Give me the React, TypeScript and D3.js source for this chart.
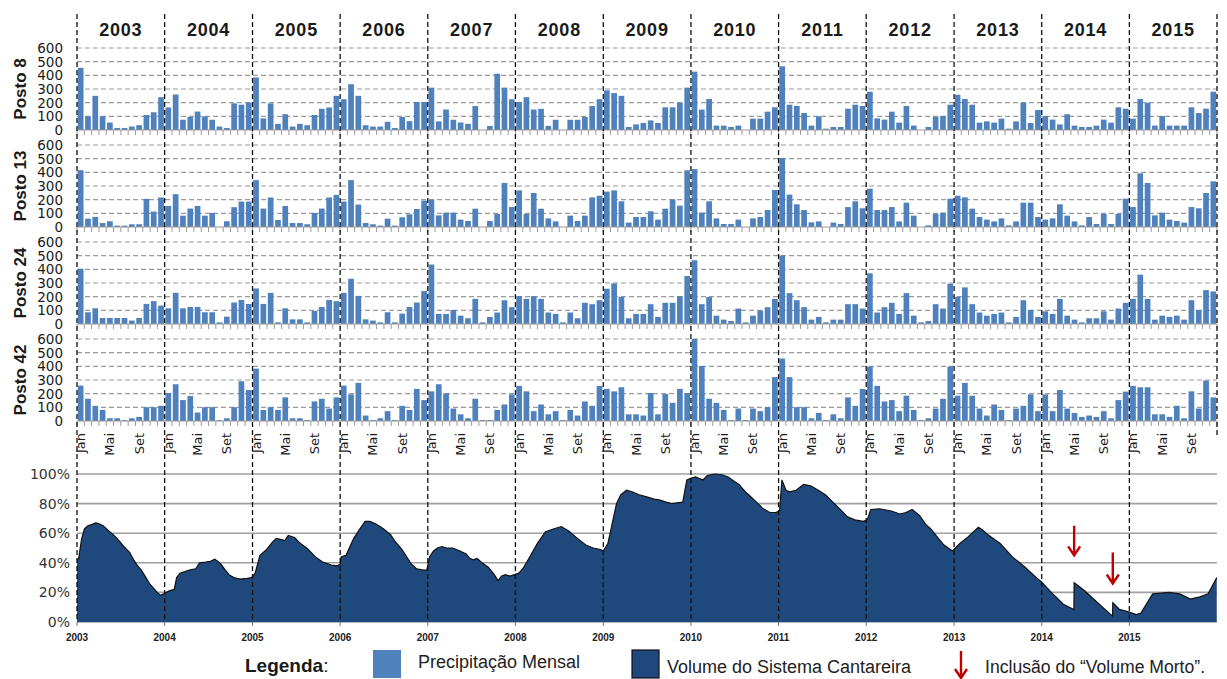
import React from "react";
import * as d3 from "d3";

// ---------- DATA ----------
const years = ["2003", "2004", "2005", "2006", "2007", "2008", "2009", "2010", "2011", "2012", "2013", "2014", "2015"];
const monthLabelIdx = [0, 4, 8];
const monthLabelText = ["Jan", "Mai", "Set"];
const precipTicks = [0, 100, 200, 300, 400, 500, 600];
const volTicks = [0, 20, 40, 60, 80, 100];
const stationNames = ["Posto 8", "Posto 13", "Posto 24", "Posto 42"];

// monthly precipitation (mm), Jan 2003 .. Dec 2015
const posto8 = [
  455, 100, 250, 100, 55, 15, 15, 25, 35, 110, 130, 240,
  165, 260, 75, 95, 135, 100, 75, 25, 15, 195, 185, 200,
  385, 85, 195, 45, 115, 25, 45, 35, 110, 155, 165, 250,
  225, 335, 250, 35, 25, 25, 60, 15, 95, 65, 205, 205,
  310, 63, 150, 75, 55, 45, 175, 0, 30, 412, 310, 225,
  205, 240, 150, 155, 30, 75, 0, 75, 75, 95, 175, 225,
  290, 270, 250, 22, 41, 51, 70, 51, 166, 166, 200, 310,
  427, 149, 227, 32, 32, 22, 32, 0, 83, 83, 134, 166,
  466, 185, 176, 124, 32, 100, 10, 22, 22, 156, 185, 176,
  280, 85, 76, 134, 54, 176, 32, 0, 22, 95, 102, 185,
  258, 227, 185, 54, 63, 54, 83, 10, 63, 200, 51, 146,
  102, 76, 41, 115, 32, 22, 22, 32, 76, 54, 166, 156,
  83, 227, 200, 32, 102, 32, 32, 32, 166, 124, 156, 280,
];
const posto13 = [
  416, 61, 74, 29, 42, 10, 10, 20, 20, 206, 113, 216,
  154, 240, 83, 135, 154, 83, 103, 0, 42, 145, 186, 186,
  343, 135, 216, 51, 154, 29, 29, 20, 103, 135, 216, 235,
  186, 343, 164, 29, 20, 10, 61, 10, 71, 93, 132, 193,
  200, 85, 105, 105, 54, 44, 134, 0, 44, 95, 322, 146,
  268, 95, 249, 134, 63, 41, 0, 83, 44, 83, 217, 229,
  259, 268, 188, 32, 73, 73, 115, 54, 134, 202, 156, 415,
  424, 105, 188, 63, 22, 22, 54, 0, 63, 73, 124, 271,
  505, 237, 166, 124, 34, 41, 0, 32, 22, 146, 188, 137,
  280, 124, 124, 146, 41, 178, 83, 0, 12, 95, 105, 207,
  229, 217, 134, 73, 54, 41, 63, 12, 41, 178, 178, 73,
  54, 63, 166, 83, 41, 12, 73, 22, 95, 22, 95, 207,
  146, 393, 322, 85, 105, 54, 44, 32, 146, 137, 249, 334,
];
const posto24 = [
  404, 86, 115, 44, 44, 44, 44, 25, 44, 147, 167, 135,
  115, 228, 115, 125, 125, 86, 86, 12, 54, 157, 176, 147,
  260, 147, 228, 12, 115, 34, 34, 12, 96, 125, 176, 167,
  228, 331, 206, 34, 25, 12, 86, 12, 76, 125, 157, 241,
  435, 74, 74, 103, 61, 42, 184, 12, 52, 84, 174, 123,
  204, 184, 204, 184, 84, 74, 12, 84, 42, 155, 145, 174,
  258, 297, 199, 42, 74, 74, 145, 52, 155, 155, 204, 351,
  467, 145, 197, 61, 32, 22, 113, 12, 61, 98, 123, 184,
  501, 226, 174, 123, 32, 52, 12, 32, 32, 145, 145, 113,
  371, 84, 123, 155, 74, 226, 61, 12, 22, 145, 113, 295,
  199, 268, 145, 84, 61, 74, 84, 12, 52, 174, 103, 52,
  93, 74, 184, 61, 32, 12, 42, 42, 93, 32, 113, 155,
  184, 361, 184, 32, 61, 52, 61, 32, 174, 103, 248, 238,
];
const posto42 = [
  259, 163, 111, 81, 20, 20, 7, 20, 30, 101, 101, 111,
  205, 269, 153, 183, 62, 101, 101, 7, 20, 101, 291, 227,
  383, 81, 101, 81, 173, 20, 20, 7, 143, 163, 91, 173,
  259, 195, 279, 40, 7, 20, 72, 7, 111, 81, 235, 153,
  217, 269, 202, 91, 49, 20, 163, 7, 7, 81, 121, 195,
  257, 217, 72, 121, 49, 72, 7, 81, 40, 143, 111, 257,
  235, 217, 247, 49, 49, 40, 205, 49, 198, 133, 235, 205,
  600, 402, 163, 133, 81, 7, 91, 7, 91, 72, 101, 321,
  457, 321, 101, 101, 20, 59, 7, 49, 20, 173, 111, 235,
  398, 257, 143, 153, 72, 185, 81, 7, 20, 91, 163, 398,
  185, 279, 185, 91, 40, 121, 81, 7, 91, 111, 195, 72,
  195, 72, 227, 91, 59, 30, 40, 30, 72, 20, 153, 215,
  257, 247, 247, 49, 49, 30, 111, 20, 217, 91, 296, 173,
];
const stationValues = [posto8, posto13, posto24, posto42];

// Cantareira stored volume (%)
const volDates = [
  "2003-01-01", "2003-01-08", "2003-01-20", "2003-02-01", "2003-02-15", "2003-03-05", "2003-03-20", "2003-04-01", "2003-04-20", "2003-05-10", "2003-06-01", "2003-06-25", "2003-07-15", "2003-08-08", "2003-08-25", "2003-09-10", "2003-09-26", "2003-10-15", "2003-10-30", "2003-11-15", "2003-12-01", "2003-12-15", "2003-12-28",
  "2004-01-20", "2004-02-10", "2004-02-20", "2004-03-05", "2004-03-25", "2004-04-20", "2004-05-10", "2004-05-25", "2004-06-20", "2004-07-10", "2004-07-28", "2004-08-20", "2004-09-10", "2004-09-25", "2004-10-15", "2004-11-10", "2004-12-10", "2004-12-28",
  "2005-01-12", "2005-02-01", "2005-03-01", "2005-03-25", "2005-04-10", "2005-05-05", "2005-05-15", "2005-05-30", "2005-06-25", "2005-07-20", "2005-08-18", "2005-09-20", "2005-10-20", "2005-11-25", "2005-12-20",
  "2006-01-01", "2006-01-05", "2006-01-25", "2006-02-25", "2006-03-20", "2006-04-15", "2006-05-05", "2006-06-01", "2006-06-30", "2006-07-30", "2006-08-15", "2006-09-15", "2006-10-05", "2006-10-25", "2006-11-15", "2006-12-15", "2006-12-28",
  "2007-01-08", "2007-01-25", "2007-02-10", "2007-03-01", "2007-03-20", "2007-04-15", "2007-05-15", "2007-06-10", "2007-06-25", "2007-07-10", "2007-07-25", "2007-08-15", "2007-09-10", "2007-10-05", "2007-10-20", "2007-11-05", "2007-11-20", "2007-12-10", "2007-12-28",
  "2008-01-15", "2008-02-01", "2008-03-01", "2008-04-01", "2008-05-05", "2008-06-10", "2008-07-10", "2008-08-10", "2008-09-15", "2008-10-20", "2008-11-20", "2008-12-20",
  "2009-01-01", "2009-01-20", "2009-02-05", "2009-02-25", "2009-03-15", "2009-04-08", "2009-05-01", "2009-05-30", "2009-07-01", "2009-08-01", "2009-08-22", "2009-09-20", "2009-10-12", "2009-11-05", "2009-11-28", "2009-12-08", "2009-12-15", "2009-12-31",
  "2010-01-20", "2010-02-05", "2010-02-20", "2010-03-10", "2010-04-10", "2010-05-10", "2010-06-05", "2010-07-01", "2010-07-20", "2010-08-15", "2010-09-05", "2010-10-01", "2010-10-25", "2010-11-25", "2010-12-20",
  "2011-01-05", "2011-01-15", "2011-02-01", "2011-02-15", "2011-03-15", "2011-04-15", "2011-05-15", "2011-06-15", "2011-07-15", "2011-08-15", "2011-09-15", "2011-10-15", "2011-11-15", "2011-12-20",
  "2012-01-05", "2012-01-20", "2012-02-25", "2012-04-15", "2012-05-20", "2012-06-15", "2012-07-10", "2012-08-10", "2012-09-05", "2012-09-28", "2012-10-25", "2012-11-20", "2012-12-25",
  "2013-01-25", "2013-02-28", "2013-04-12", "2013-05-01", "2013-05-22", "2013-07-12", "2013-09-01", "2013-10-20", "2013-12-10", "2013-12-31",
  "2014-02-10", "2014-04-01", "2014-05-15", "2014-05-16", "2014-06-25", "2014-08-15", "2014-09-25", "2014-10-23", "2014-10-24", "2014-11-20", "2014-12-25",
  "2015-01-30", "2015-02-18", "2015-04-08", "2015-06-15", "2015-07-30", "2015-09-12", "2015-10-22", "2015-11-25", "2015-12-31",
];
const volPct = [
  42, 43, 56, 63, 65, 66, 67, 66.5, 65, 62, 59, 55, 51, 47, 42, 38, 35, 30, 26, 23, 20, 18, 19,
  21, 22, 30, 33, 34, 35.5, 36, 40, 40.5, 41, 42.5, 39.5, 35, 32, 30, 29, 29.5, 30,
  33, 45, 49, 54, 56.5, 55.5, 55, 58.5, 57, 53, 49.5, 44, 40.5, 38.5, 38,
  39, 44, 45, 56, 62, 68, 68, 66, 63, 59, 55, 49, 44, 39, 36, 35, 35,
  44, 48, 50, 51, 50, 50, 48, 46, 43, 42, 43, 40, 37, 32, 28, 31, 32, 31, 32,
  33, 36, 44, 53, 61, 63, 64.5, 61.5, 56.5, 52, 50, 49,
  48, 53, 65, 80, 86, 89, 88, 86, 84.5, 83, 82.5, 81, 80, 80.5, 81, 90, 96, 97,
  98, 97, 96, 99, 100, 99.5, 98, 95, 93, 88, 85, 81, 77, 74, 74,
  75, 96, 89, 88, 89, 93, 92, 89, 86, 81, 76, 71, 69, 68,
  69, 76, 76.5, 75, 73, 74, 76, 72, 66, 62.5, 57, 52, 48,
  53, 57.5, 64, 62, 59, 53, 44, 37.5, 30, 27,
  20, 12, 8.5, 26.5, 21.6, 14, 8, 4, 13, 8.6, 7,
  5, 6, 19, 20, 19, 15.5, 17, 19, 30,
];

// "Volume Morto" inclusion arrows (date, arrow top %, arrow tip %)
const mortoDates = ["2014-05-16", "2014-10-24"];
const mortoTop = [65, 47];
const mortoTip = [45, 26];

// ---------- LAYOUT ----------
const W = 1227;
const H = 679;
const X0 = 77;
const X1 = 1217;
const PANEL_ZERO = 130;
const PANEL_STEP = 97;
const PANEL_H = 82;
const VOL_TOP = 474;
const VOL_BOTTOM = 622;

const BAR_COLOR = "#4f81bd";
const AREA_COLOR = "#1f497d";
const TEXT = "#1a1a1a";
const FONT = "'Liberation Sans', Arial, sans-serif";
const TICK_FONT = "'DejaVu Sans', Verdana, sans-serif";

export default function App() {
  const nMonths = years.length * 12;
  const xBand = d3.scaleBand<number>().domain(d3.range(nMonths)).range([X0, X1]).paddingInner(0.22).paddingOuter(0.11);
  const monthW = (X1 - X0) / nMonths;
  const yPrecip = d3.scaleLinear().domain([0, 600]).range([0, -PANEL_H]);

  const parse = d3.timeParse("%Y-%m-%d");
  const xTime = d3.scaleTime().domain([new Date(2003, 0, 1), new Date(2016, 0, 1)]).range([X0, X1]);
  const yVol = d3.scaleLinear().domain([0, 100]).range([VOL_BOTTOM, VOL_TOP]);
  const volData = volDates.map((d, i) => ({ date: parse(d) as Date, v: volPct[i] }));
  const area = d3.area<{ date: Date; v: number }>().x((d) => xTime(d.date)).y0(VOL_BOTTOM).y1((d) => yVol(d.v));
  const line = d3.line<{ date: Date; v: number }>().x((d) => xTime(d.date)).y((d) => yVol(d.v));

  const yearBounds = d3.range(years.length + 1).map((i) => xTime(new Date(2003 + i, 0, 1)));

  return (
    <svg width={W} height={H} style={{ position: "absolute", left: 0, top: 0, background: "#fff" }} fontFamily={FONT}>
      <rect x={0} y={0} width={W} height={H} fill="#fff" />
      {/* Year labels */}
      {years.map((y, i) => (
        <text key={y} x={(yearBounds[i] + yearBounds[i + 1]) / 2} y={36} textAnchor="middle" fontSize={18} fontWeight="bold" letterSpacing={0.8} fill={TEXT}>
          {y}
        </text>
      ))}

      {/* Precipitation panels */}
      {stationNames.map((name, si) => {
        const zero = PANEL_ZERO + si * PANEL_STEP;
        const vals = stationValues[si];
        return (
          <g key={name}>
            {precipTicks.filter((t) => t > 0).map((t) => (
              <line key={t} x1={X0} x2={X1} y1={zero + yPrecip(t)} y2={zero + yPrecip(t)} stroke="#9a9a9a" strokeWidth={1.2} strokeDasharray="5,3" />
            ))}
            {vals.map((v, i) => (
              <rect key={i} x={xBand(i)} y={zero + yPrecip(v)} width={xBand.bandwidth()} height={-yPrecip(v)} fill={BAR_COLOR} />
            ))}
            <line x1={X0} x2={X1} y1={zero} y2={zero} stroke="#9a9a9a" strokeWidth={1.2} />
            {d3.range(nMonths + 1).map((i) => (
              <line key={i} x1={X0 + i * monthW} x2={X0 + i * monthW} y1={zero} y2={zero + 5} stroke="#9a9a9a" strokeWidth={1} />
            ))}
            {precipTicks.map((t) => (
              <text key={t} x={63} y={zero + yPrecip(t)} dy="0.36em" textAnchor="end" fontSize={13.5} fontFamily={TICK_FONT} fill={TEXT}>
                {t}
              </text>
            ))}
            <text transform={`translate(${26},${zero - PANEL_H / 2}) rotate(-90)`} textAnchor="middle" fontSize={17} fontWeight="bold" fill={TEXT}>
              {name}
            </text>
          </g>
        );
      })}

      {/* Month labels */}
      {years.map((y, yi) =>
        monthLabelIdx.map((m, k) => {
          const i = yi * 12 + m;
          const cx = (xBand(i) as number) + xBand.bandwidth() / 2;
          return (
            <text key={`${y}-${m}`} transform={`translate(${cx + 4.5},${433}) rotate(-90)`} textAnchor="end" fontSize={13} fontFamily={TICK_FONT} fill={TEXT}>
              {monthLabelText[k]}
            </text>
          );
        })
      )}

      {/* Volume chart */}
      {volTicks.map((t) => (
        <g key={t}>
          <line x1={X0} x2={X1} y1={yVol(t)} y2={yVol(t)} stroke="#a0a0a0" strokeWidth={1.6} />
          <text x={70} y={yVol(t)} dy="0.36em" textAnchor="end" fontSize={14} fontFamily={TICK_FONT} fill="#333">
            {t}%
          </text>
        </g>
      ))}
      <path d={area(volData) as string} fill={AREA_COLOR} />
      <path d={line(volData) as string} fill="none" stroke="#111" strokeWidth={1.2} />
      {years.map((y, i) => (
        <g key={y}>
          <line x1={yearBounds[i]} x2={yearBounds[i]} y1={VOL_BOTTOM} y2={VOL_BOTTOM + 4} stroke="#777" />
          <text x={yearBounds[i]} y={641} textAnchor="middle" fontSize={10} fontWeight="bold" fontFamily="'Liberation Sans Narrow', 'Arial Narrow', 'Liberation Sans', sans-serif" fill="#222">
            {y}
          </text>
        </g>
      ))}

      {/* Year dividers */}
      {yearBounds.map((x, i) => (
        <line key={i} x1={x} x2={x} y1={14} y2={i === years.length ? 436 : VOL_BOTTOM} stroke="#111" strokeWidth={1.3} strokeDasharray="5,3" />
      ))}

      {/* Volume morto arrows */}
      {mortoDates.map((d, i) => {
        const x = xTime(parse(d) as Date);
        const top = yVol(mortoTop[i]);
        const tip = yVol(mortoTip[i]);
        return (
          <path key={d} d={`M${x},${top} L${x},${tip} M${x - 6},${tip - 9} L${x},${tip} L${x + 6},${tip - 9}`} fill="none" stroke="#c00000" strokeWidth={2.4} />
        );
      })}

      {/* Legend */}
      <text x={245} y={672} fontSize={19} fill={TEXT}>
        <tspan fontWeight="bold">Legenda</tspan>
        <tspan>:</tspan>
      </text>
      <rect x={373} y={650} width={28} height={28} fill={BAR_COLOR} />
      <text x={418} y={668} fontSize={18} fill="#222">Precipitação Mensal</text>
      <rect x={632} y={650} width={27} height={28} fill={AREA_COLOR} stroke="#111" strokeWidth={1.2} />
      <text x={667} y={673} fontSize={18} fill="#222">Volume do Sistema Cantareira</text>
      <path d={`M961,651 L961,678 M955,669 L961,678 L967,669`} fill="none" stroke="#c00000" strokeWidth={2.4} />
      <text x={985} y={673} fontSize={17.6} fill="#222">Inclusão do “Volume Morto”.</text>
    </svg>
  );
}
